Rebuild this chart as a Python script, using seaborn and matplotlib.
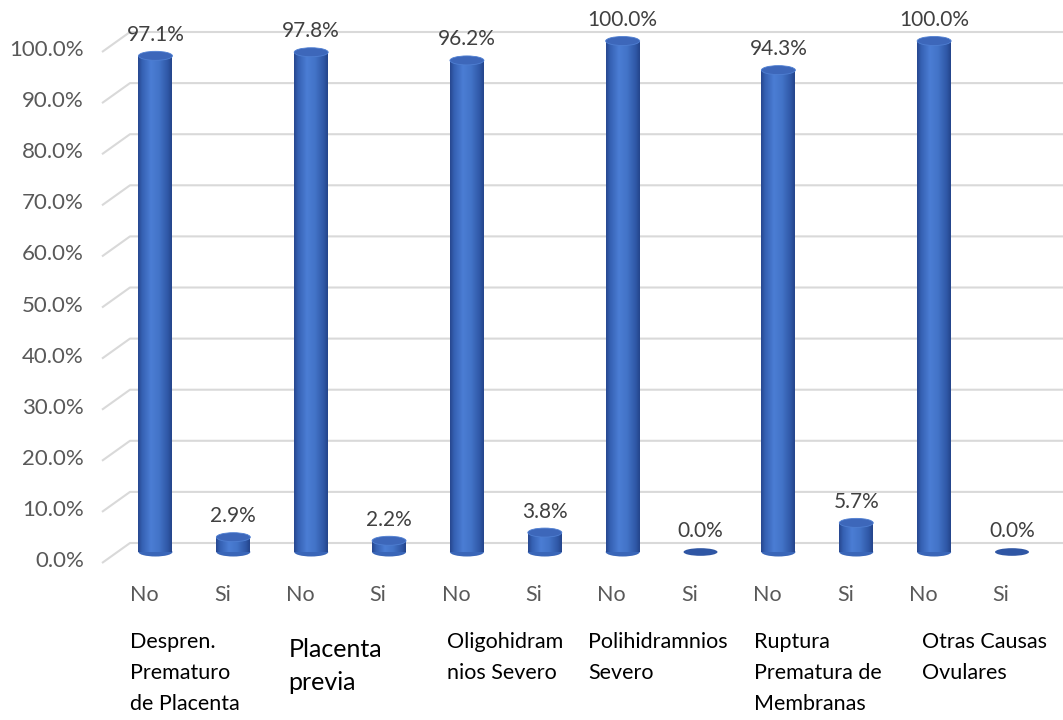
import numpy as np
import pandas as pd
import matplotlib
matplotlib.use("Agg")
import matplotlib.pyplot as plt
import matplotlib.transforms as mtransforms
from matplotlib.patches import Ellipse
from matplotlib.colors import LinearSegmentedColormap
import seaborn as sns

# ---------------- data ----------------
groups = ["Despren.\nPrematuro\nde Placenta", "Placenta\nprevia", "Oligohidram\nnios Severo",
          "Polihidramnios\nSevero", "Ruptura\nPrematura de\nMembranas", "Otras Causas\nOvulares"]
responses = ["No", "Si"]
no_values = [97.1, 97.8, 96.2, 100.0, 94.3, 100.0]
si_values = [2.9, 2.2, 3.8, 0.0, 5.7, 0.0]
y_ticks = [0, 10, 20, 30, 40, 50, 60, 70, 80, 90, 100]

rows = []
for g, (n, s) in enumerate(zip(no_values, si_values)):
    rows.append({"key": f"{g}-No", "group": groups[g], "resp": "No", "value": n})
    rows.append({"key": f"{g}-Si", "group": groups[g], "resp": "Si", "value": s})
df = pd.DataFrame(rows)

# ---------------- style ----------------
sns.set_theme(style="white")
plt.rcParams["font.family"] = ["Lato", "DejaVu Sans"]

W, H, DPI = 1063, 720, 100
fig = plt.figure(figsize=(W / DPI, H / DPI), dpi=DPI)
ax_left, ax_right, ax_bottom_px, ax_top_px = 130, 1063, 552, 41
ax = fig.add_axes([ax_left / W, (H - ax_bottom_px) / H,
                   (ax_right - ax_left) / W, (ax_bottom_px - ax_top_px) / H])

bar_w = 0.436
sns.barplot(data=df, x="key", y="value", order=list(df["key"]), color="#4472C4",
            width=bar_w, saturation=1, ax=ax, zorder=3, linewidth=0)

xlim = (-0.327, 11.655)
ylim = (0, 100)
ax.set_xlim(*xlim)
ax.set_ylim(*ylim)
px_per_y = (ax_bottom_px - ax_top_px) / 100.0
ell_h = 9 / px_per_y

cyl = LinearSegmentedColormap.from_list(
    "cyl", [(0.0, "#27478E"), (0.12, "#3560B2"), (0.38, "#4B7DD4"),
            (0.62, "#4374C8"), (0.88, "#2F57A6"), (1.0, "#24448A")])
grad = np.linspace(0, 1, 256).reshape(1, -1)

for i, p in enumerate(list(ax.patches)):
    x0, w, h = p.get_x(), p.get_width(), p.get_height()
    xc = x0 + w / 2
    if h > 0:
        im = ax.imshow(grad, extent=[x0, x0 + w, 0, h], aspect="auto", cmap=cyl,
                       zorder=3.1, interpolation="bilinear")
        im.set_clip_path(p)
        be = Ellipse((xc, 0), w, ell_h, facecolor="#3A66B8", edgecolor="none", zorder=3.05)
        be.set_clip_on(False)
        ax.add_patch(be)
        im2 = ax.imshow(grad, extent=[x0, x0 + w, -ell_h / 2, 0.01], aspect="auto",
                        cmap=cyl, zorder=3.1, interpolation="bilinear")
        im2.set_clip_path(be)
        top = Ellipse((xc, h), w, ell_h, facecolor="#3D67BA", edgecolor="#4F7FD2",
                      linewidth=0.6, zorder=3.3)
    else:
        top = Ellipse((xc, 0), w, ell_h * 0.85, facecolor="#2F56A4", edgecolor="none",
                      zorder=3.3)
    top.set_clip_on(False)
    ax.add_patch(top)

ax.set_xlim(*xlim)
ax.set_ylim(*ylim)

# ---------------- gridlines (back wall, with 3D floor edge) ----------------
blend_y = mtransforms.blended_transform_factory(ax.transAxes, ax.transData)
back_off = mtransforms.ScaledTranslation(0, 9 / DPI, fig.dpi_scale_trans)
diag_dx = -28 / (ax_right - ax_left)
diag_dy = 20 / px_per_y
for v in y_ticks:
    ax.plot([diag_dx, 0, 1], [v - diag_dy, v, v], transform=blend_y + back_off,
            color="#D9D9D9", lw=1.5, zorder=0, clip_on=False, solid_capstyle="butt")

# y tick labels (front plane)
lab_off = mtransforms.ScaledTranslation(0, -9 / DPI, fig.dpi_scale_trans)
for v in y_ticks:
    ax.text((84 - ax_left) / (ax_right - ax_left), v, f"{v:.1f}%", transform=blend_y + lab_off,
            ha="right", va="center", fontsize=16, color="#595959")

# data labels
val_off = mtransforms.ScaledTranslation(0, 21 / DPI, fig.dpi_scale_trans)
for i, v in enumerate(df["value"]):
    ax.text(i, v, f"{v:.1f}%", transform=ax.transData + val_off, ha="center", va="center",
            fontsize=15, color="#404040", zorder=5)

# category labels
blend_x = mtransforms.blended_transform_factory(ax.transData, ax.transAxes)
resp_off = mtransforms.ScaledTranslation(-11 / DPI, -43 / DPI, fig.dpi_scale_trans)
for i, r in enumerate(df["resp"]):
    ax.text(i, 0, r, transform=blend_x + resp_off, ha="center", va="center",
            fontsize=15.5, color="#595959")

group_nudge_px = [-10, -15, -1, -4, 1, 11]
for g, name in enumerate(groups):
    big = (g == 1)
    off = mtransforms.ScaledTranslation(group_nudge_px[g] / DPI, (-(86 if big else 80)) / DPI,
                                        fig.dpi_scale_trans)
    ax.text(2 * g + 0.5, 0, name, transform=blend_x + off, ha="center", va="top",
            multialignment="left", fontsize=18 if big else 15.5, color="#000000",
            linespacing=1.5 if big else 1.7)

ax.set_xticks([])
ax.set_yticks([])
ax.set_xlabel("")
ax.set_ylabel("")
for s in ax.spines.values():
    s.set_visible(False)
ax.patch.set_alpha(0)

fig.savefig("out.png", dpi=DPI, facecolor="white")
